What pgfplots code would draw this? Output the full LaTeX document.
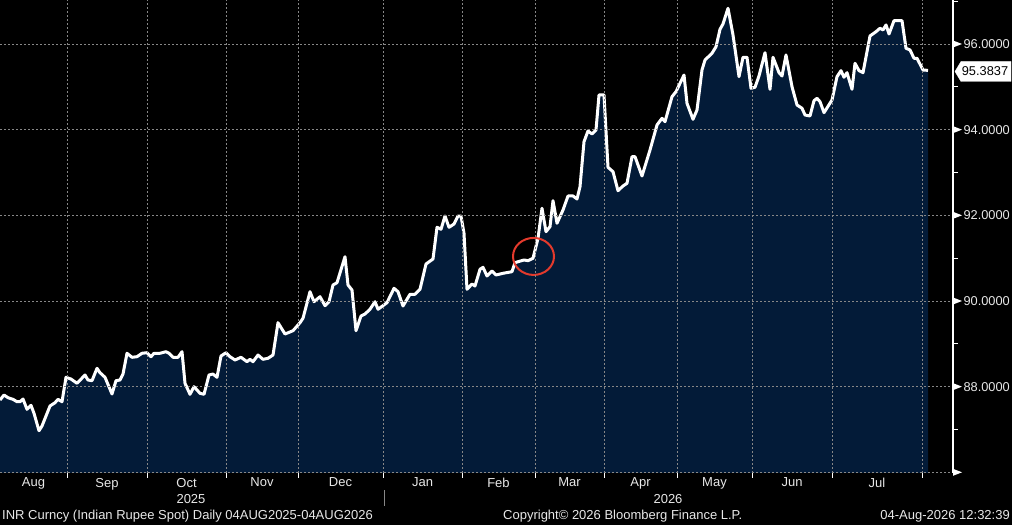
\documentclass[border=0pt]{standalone}
\usepackage{pgfplots}
\pgfplotsset{compat=1.18}
\usepackage{pgfplotstable}
\usepackage{fontspec}
\setmainfont{Liberation Sans}
\definecolor{navy}{RGB}{3,27,56}
\definecolor{txt}{RGB}{232,232,232}
\definecolor{gridc}{RGB}{135,135,135}
\definecolor{circ}{RGB}{228,58,44}
\pgfplotstableread{
x y
0 87.688
4 87.805
8 87.742
13 87.704
17 87.648
20 87.648
23 87.711
27 87.471
31 87.564
34 87.378
39 86.971
42 87.081
50 87.548
55 87.625
58 87.704
62 87.648
66 88.218
71 88.178
77 88.078
85 88.272
88 88.155
92 88.139
97 88.428
100 88.326
105 88.218
112 87.828
116 88.139
120 88.155
123 88.295
127 88.779
132 88.685
137 88.699
142 88.779
147 88.792
151 88.699
154 88.779
160 88.779
166 88.816
169 88.779
173 88.685
178 88.685
182 88.816
185 88.078
190 87.821
194 87.999
200 87.845
204 87.821
209 88.272
213 88.295
217 88.218
221 88.715
226 88.792
230 88.699
235 88.622
241 88.685
247 88.582
250 88.638
253 88.582
258 88.739
263 88.638
268 88.662
273 88.739
278 89.493
285 89.229
293 89.306
300 89.493
303 89.596
310 90.217
314 89.983
320 90.100
325 89.890
329 89.983
333 90.373
337 90.427
345 91.034
348 90.373
352 90.256
356 89.306
361 89.649
365 89.696
370 89.806
375 89.983
378 89.806
387 89.960
394 90.296
398 90.217
403 89.883
410 90.156
415 90.156
420 90.273
426 90.863
433 90.980
437 91.720
441 91.674
445 91.984
449 91.720
454 91.797
458 91.984
461 91.984
464 91.580
467 90.273
472 90.396
475 90.350
480 90.740
483 90.786
487 90.583
492 90.700
496 90.607
503 90.646
512 90.684
515 90.894
518 90.917
524 90.957
528 90.941
533 90.997
538 91.463
542 92.164
546 91.618
550 91.734
553 92.341
557 91.814
563 92.124
568 92.451
573 92.451
577 92.381
580 92.668
584 93.719
588 93.969
592 93.899
596 93.992
599 94.809
604 94.809
608 93.121
613 93.018
618 92.575
623 92.685
627 92.748
632 93.369
635 93.369
642 92.918
650 93.525
657 94.109
662 94.265
665 94.186
672 94.770
676 94.886
684 95.276
687 94.615
693 94.242
697 94.459
702 95.393
705 95.626
712 95.783
716 95.937
720 96.343
723 96.467
728 96.834
733 96.210
739 95.237
743 95.689
747 95.689
751 94.966
755 94.989
759 95.253
765 95.797
770 94.942
773 95.689
779 95.330
782 95.253
786 95.743
792 95.003
797 94.576
802 94.499
805 94.342
810 94.319
814 94.676
817 94.732
820 94.653
824 94.396
832 94.693
837 95.237
841 95.377
844 95.223
847 95.330
852 94.942
855 95.549
859 95.377
863 95.330
870 96.187
876 96.287
880 96.367
883 96.327
886 96.444
889 96.233
894 96.544
902 96.544
906 95.900
910 95.860
914 95.666
917 95.666
923 95.393
928 95.3837
}\inr
\begin{document}
\begin{tikzpicture}
\useasboundingbox[fill=black] (0,0) rectangle (1012pt,525pt);
\begin{axis}[
  at={(0pt,52pt)}, anchor=south west,
  scale only axis, width=953pt, height=473pt,
  xmin=0, xmax=953, ymin=85.984, ymax=97.027,
  axis x line*=bottom, axis y line*=right,
  x axis line style={gridc, dash pattern=on 2pt off 2pt, line width=1pt},
  y axis line style={white, line width=1.2pt},
  xtick={33.5,107,186.5,262,340.5,422.5,498.5,569.5,640.5,714.5,792,877},
  xticklabels={Aug,Sep,Oct,Nov,Dec,Jan,Feb,Mar,Apr,May,Jun,Jul},
  minor xtick={67,147,226,298,383,462,535,604,677,752,832,922},
  ytick={88,90,92,94,96},
  minor ytick={87,89,91,93,95,97},
  xminorgrids=true, xmajorgrids=false, ymajorgrids=true, yminorgrids=false,
  major grid style={gridc, dash pattern=on 2pt off 2pt, line width=0.8pt},
  minor grid style={gridc, dash pattern=on 2pt off 2pt, line width=0.8pt},
  major tick length=0pt, minor tick length=5pt, tick align=outside,
  tick style={white, line width=1pt},
  ticklabel style={font=\fontsize{13}{15}\selectfont, text=txt},
  yticklabel pos=right,
  yticklabel style={/pgf/number format/fixed, /pgf/number format/fixed zerofill,
    /pgf/number format/precision=4, anchor=west, xshift=7pt,
    font=\fontsize{12.8}{15}\selectfont},
  xticklabel style={yshift=-1.5pt},
  /pgf/number format/assume math mode=true,
  axis on top, clip=false,
]
\addplot[fill=navy, draw=none] table[x=x,y=y]{\inr} \closedcycle;
\addplot[white, line width=3pt, line join=round] table[x=x,y=y]{\inr};
\pgfplotsinvokeforeach{86,88,90,92,94,96}{
  \fill[white] (axis cs:953,#1) ++(0pt,3.5pt) -- ++(9pt,-3.5pt) -- ++(-9pt,-3.5pt) -- cycle;
}
\draw[circ, line width=2pt] (axis cs:533.5,91.04) ellipse [x radius=20.5pt, y radius=18.5pt];
\end{axis}
% current value tag
\filldraw[fill=white, draw=white] (955pt,453.5pt) -- (961pt,463.5pt) -- (1011pt,463.5pt) -- (1011pt,443.5pt) -- (961pt,443.5pt) -- cycle;
\node[text=black, font=\fontsize{12.8}{15}\selectfont] at (985pt,453.5pt) {95.3837};
% year labels
\node[text=txt, font=\fontsize{13}{15}\selectfont] at (191pt,26pt) {2025};
\node[text=txt, font=\fontsize{13}{15}\selectfont] at (668pt,26pt) {2026};
\draw[gridc, line width=1pt] (384pt,35pt) -- (384pt,19pt);
% footer
\node[text=txt, font=\fontsize{13}{15}\selectfont, anchor=west, inner sep=0pt] at (2pt,9pt) {INR Curncy (Indian Rupee Spot) Daily 04AUG2025-04AUG2026};
\node[text=txt, font=\fontsize{13}{15}\selectfont, anchor=west, inner sep=0pt] at (503pt,9pt) {Copyright© 2026 Bloomberg Finance L.P.};
\node[text=txt, font=\fontsize{13}{15}\selectfont, anchor=east, inner sep=0pt] at (1010pt,9pt) {04-Aug-2026 12:32:39};
\end{tikzpicture}
\end{document}
